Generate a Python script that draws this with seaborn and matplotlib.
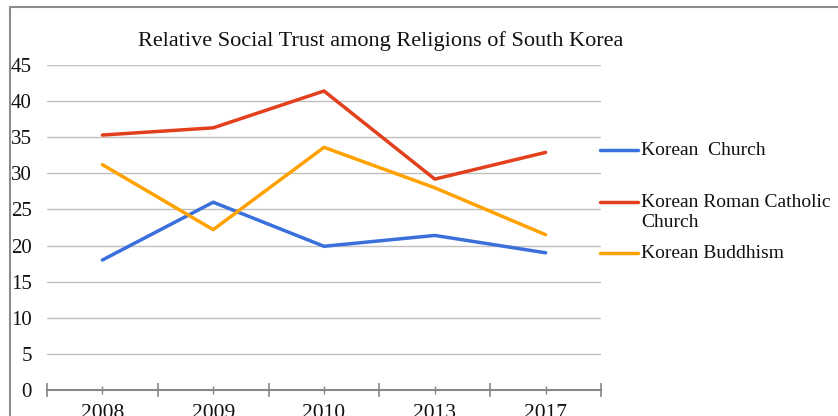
import matplotlib
matplotlib.use("Agg")
import matplotlib.pyplot as plt
from matplotlib.lines import Line2D
from matplotlib.patches import Rectangle
import seaborn as sns
import pandas as pd

years = ["2008", "2009", "2010", "2013", "2017"]
series_names = ["Korean Church", "Korean Roman Catholic Church", "Korean Buddhism"]
legend_labels = ["Korean  Church", "Korean Roman Catholic\nChurch", "Korean Buddhism"]
church = [18.0, 26.0, 19.9, 21.4, 19.0]
catholic = [35.3, 36.3, 41.4, 29.2, 32.9]
buddhism = [31.2, 22.2, 33.6, 28.0, 21.5]
y_ticks = [0, 5, 10, 15, 20, 25, 30, 35, 40, 45]
title = "Relative Social Trust among Religions of South Korea"

colors = ["#3B6FDB", "#E2401C", "#FFA200"]

sns.set_theme(style="white")
plt.rcParams["font.family"] = ["Liberation Serif", "DejaVu Serif"]

rows = []
for name, vals in zip(series_names, [church, catholic, buddhism]):
    for yr, v in zip(years, vals):
        rows.append({"Year": yr, "Value": v, "Series": name})
df = pd.DataFrame(rows)

W, H = 838, 416
fig = plt.figure(figsize=(W / 100, H / 100), dpi=100)
fig.patch.set_facecolor("white")

ax = fig.add_axes([47 / W, 1 - 390 / H, (601 - 47) / W, (390 - 65) / H])
sns.lineplot(data=df, x="Year", y="Value", hue="Series", palette=colors,
             hue_order=series_names, linewidth=2.5, ax=ax, legend=False, sort=False)

ax.set_xlim(-0.5, len(years) - 0.5)
ax.set_ylim(0, 45)
ax.set_yticks(y_ticks)
ax.set_yticklabels([str(t) for t in y_ticks], fontsize=15, color="#111111")
ax.set_xticks(range(len(years)))
ax.set_xticklabels(years, fontsize=15.5, color="#111111")
ax.set_xticks([i - 0.5 for i in range(len(years) + 1)], minor=True)
ax.tick_params(axis="x", which="both", bottom=True)
ax.tick_params(axis="x", which="major", direction="inout", length=6, width=1.0,
               color="#888888", pad=7)
ax.tick_params(axis="x", which="minor", direction="inout", length=10, width=1.2,
               color="#888888")
ax.tick_params(axis="y", which="major", left=False, length=0, pad=11)
ax.set_xlabel("")
ax.set_ylabel("")
ax.yaxis.grid(True, color="#BFBFBF", linewidth=1.0)
ax.xaxis.grid(False)
ax.set_axisbelow(True)
for s in ["top", "right", "left"]:
    ax.spines[s].set_visible(False)
ax.spines["bottom"].set_color("#888888")
ax.spines["bottom"].set_linewidth(1.5)
ax.set_facecolor("none")

# Outer chart frame (extends beyond the image right/bottom)
fig.add_artist(Rectangle((10 / W, -0.1), 1.2, (1 - 7 / H) + 0.1,
                         transform=fig.transFigure, fill=False,
                         edgecolor="#8C8C8C", linewidth=1.5))

fig.text(381 / W, 1 - 41 / H, title, ha="center", va="center", fontsize=16,
         color="#111111")

# Legend
leg_y = [150, 202, 253]
for lab, col, yy in zip(legend_labels, colors, leg_y):
    fig.add_artist(Line2D([600 / W, 638 / W], [1 - yy / H, 1 - yy / H],
                          transform=fig.transFigure, color=col, linewidth=2.5))
    fig.text(641 / W, 1 - (yy - 8) / H, lab, ha="left", va="top", fontsize=14,
             color="#111111", linespacing=1.2)

fig.savefig("out.png", dpi=100)
